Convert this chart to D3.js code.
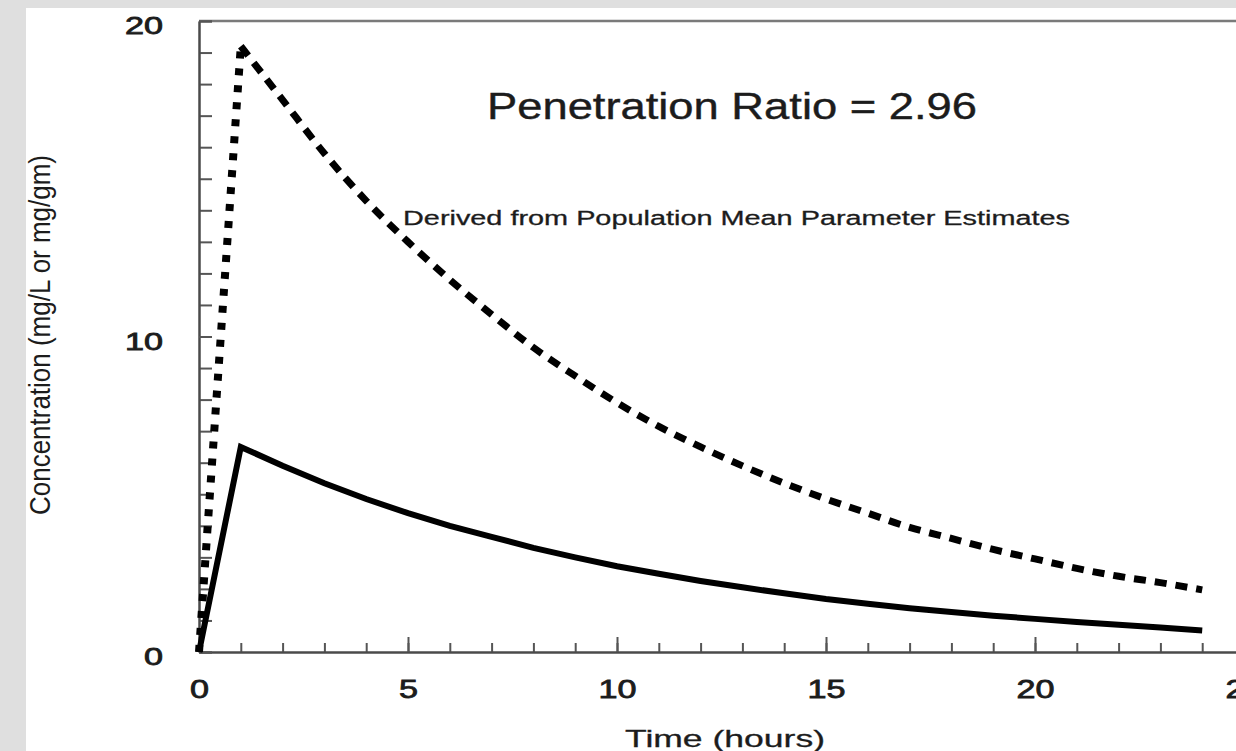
<!DOCTYPE html>
<html>
<head>
<meta charset="utf-8">
<script src="https://cdn.jsdelivr.net/npm/d3@7"></script>
<style>
  html, body { margin: 0; padding: 0; background: #dfdfdf; overflow: hidden; }
  svg { display: block; }
  text { font-family: "Liberation Sans", Arial, Helvetica, sans-serif; fill: #1c1c1c; }
</style>
</head>
<body>
<svg id="chart" width="1236" height="751"></svg>
<script>
// Sampling times (hours after start of dose)
const hours = [0, 1, 2, 3, 4, 5, 6, 7, 8, 9, 10, 11, 12, 13, 14, 15, 16, 17, 18, 19, 20, 21, 22, 23, 24];

// Tissue concentration (mg/gm), dashed curve
const tissueConc = [0, 19.2, 17.5, 15.8, 14.3, 13.0, 11.8, 10.7, 9.65, 8.75, 7.9, 7.15, 6.5,
  5.9, 5.35, 4.85, 4.4, 3.95, 3.6, 3.25, 2.95, 2.65, 2.4, 2.2, 1.97];

// Serum concentration (mg/L), solid curve
const serumConc = [0, 6.5, 5.9, 5.35, 4.85, 4.4, 4.0, 3.65, 3.3, 3.0, 2.72, 2.48, 2.25,
  2.05, 1.86, 1.68, 1.53, 1.39, 1.27, 1.15, 1.05, 0.95, 0.86, 0.78, 0.68];

const xMajorTicks = [0, 5, 10, 15, 20, 25];
const xMinorTicks = d3.range(0, 26, 1);
const yMajorTicks = [0, 10, 20];
const yMinorTicks = d3.range(0, 21, 1);

const titleText = "Penetration Ratio = 2.96";
const noteText = "Derived from Population Mean Parameter Estimates";
const xTitle = "Time (hours)";
const yTitle = "Concentration (mg/L or mg/gm)";

const svg = d3.select("#chart");

// paper area
svg.append("rect").attr("x", 26).attr("y", 8).attr("width", 1236 - 26).attr("height", 751 - 8).attr("fill", "#ffffff");

const x = d3.scaleLinear().domain([0, 25]).range([199, 199 + 25 * 41.8]);
const y = d3.scaleLinear().domain([0, 20]).range([652, 21]);

const axisColor = "#4a4a4a";
const ink = "#1c1c1c";

// top frame line
svg.append("line")
  .attr("x1", x(0)).attr("x2", 1236)
  .attr("y1", y(20)).attr("y2", y(20))
  .attr("stroke", "#7a7a7a").attr("stroke-width", 2.5);

// x axis: minor and major ticks pointing into the plot
const gxMinor = svg.append("g").attr("transform", `translate(0,${y(0)})`)
  .call(d3.axisBottom(x).tickValues(xMinorTicks).tickSize(-9).tickSizeOuter(0).tickFormat(""));
const gxMajor = svg.append("g").attr("transform", `translate(0,${y(0)})`)
  .call(d3.axisBottom(x).tickValues(xMajorTicks).tickSize(-15).tickSizeOuter(0).tickPadding(28));

// y axis
const gyMinor = svg.append("g").attr("transform", `translate(${x(0)},0)`)
  .call(d3.axisLeft(y).tickValues(yMinorTicks).tickSize(-13).tickSizeOuter(0).tickFormat(""));
const gyMajor = svg.append("g").attr("transform", `translate(${x(0)},0)`)
  .call(d3.axisLeft(y).tickValues(yMajorTicks).tickSize(-13).tickSizeOuter(0).tickPadding(36));

[gxMinor, gxMajor, gyMinor, gyMajor].forEach(g => {
  g.select(".domain").attr("stroke", axisColor).attr("stroke-width", 2);
  g.selectAll(".tick line").attr("stroke", "#555").attr("stroke-width", 2);
});

gxMajor.selectAll(".tick text")
  .attr("font-size", 25).attr("fill", ink)
  .attr("stroke", ink).attr("stroke-width", 0.8)
  .attr("textLength", d => String(d).length * 19).attr("lengthAdjust", "spacingAndGlyphs");
gyMajor.selectAll(".tick text")
  .attr("font-size", 23).attr("fill", ink)
  .attr("stroke", ink).attr("stroke-width", 0.8)
  .attr("dy", "0.55em")
  .attr("textLength", d => String(d).length * 19).attr("lengthAdjust", "spacingAndGlyphs");

// curves
const tissue = hours.map((h, i) => [h, tissueConc[i]]);
const serum = hours.map((h, i) => [h, serumConc[i]]);
const line = d3.line().x(d => x(d[0])).y(d => y(d[1]));

const peakIndex = tissueConc.indexOf(d3.max(tissueConc));

// dashed tissue curve: rising limb and decay
svg.append("path")
  .attr("d", line(tissue.slice(0, peakIndex + 1)))
  .attr("fill", "none").attr("stroke", "#000")
  .attr("stroke-width", 8).attr("stroke-dasharray", "7 10");
svg.append("path")
  .attr("d", line.curve(d3.curveMonotoneX)(tissue.slice(peakIndex)))
  .attr("fill", "none").attr("stroke", "#000")
  .attr("stroke-width", 7).attr("stroke-dasharray", "12 9");
line.curve(d3.curveLinear);

// solid serum curve
svg.append("path")
  .attr("d", line(serum))
  .attr("fill", "none").attr("stroke", "#000")
  .attr("stroke-width", 6).attr("stroke-linejoin", "miter");

// annotations
svg.append("text")
  .attr("x", 732).attr("y", 119)
  .attr("text-anchor", "middle")
  .attr("font-size", 36)
  .attr("stroke", ink).attr("stroke-width", 0.4)
  .attr("textLength", 490).attr("lengthAdjust", "spacingAndGlyphs")
  .text(titleText);

svg.append("text")
  .attr("x", 403).attr("y", 225)
  .attr("font-size", 20)
  .attr("stroke", ink).attr("stroke-width", 0.3)
  .attr("textLength", 667).attr("lengthAdjust", "spacingAndGlyphs")
  .text(noteText);

// axis titles
svg.append("text")
  .attr("x", 725).attr("y", 747)
  .attr("text-anchor", "middle")
  .attr("font-size", 24)
  .attr("stroke", ink).attr("stroke-width", 0.3)
  .attr("textLength", 200).attr("lengthAdjust", "spacingAndGlyphs")
  .text(xTitle);

svg.append("text")
  .attr("transform", "translate(50,335) rotate(-90) scale(1,1.2)")
  .attr("text-anchor", "middle")
  .attr("font-size", 25)
  .attr("textLength", 360).attr("lengthAdjust", "spacingAndGlyphs")
  .text(yTitle);
</script>
</body>
</html>
